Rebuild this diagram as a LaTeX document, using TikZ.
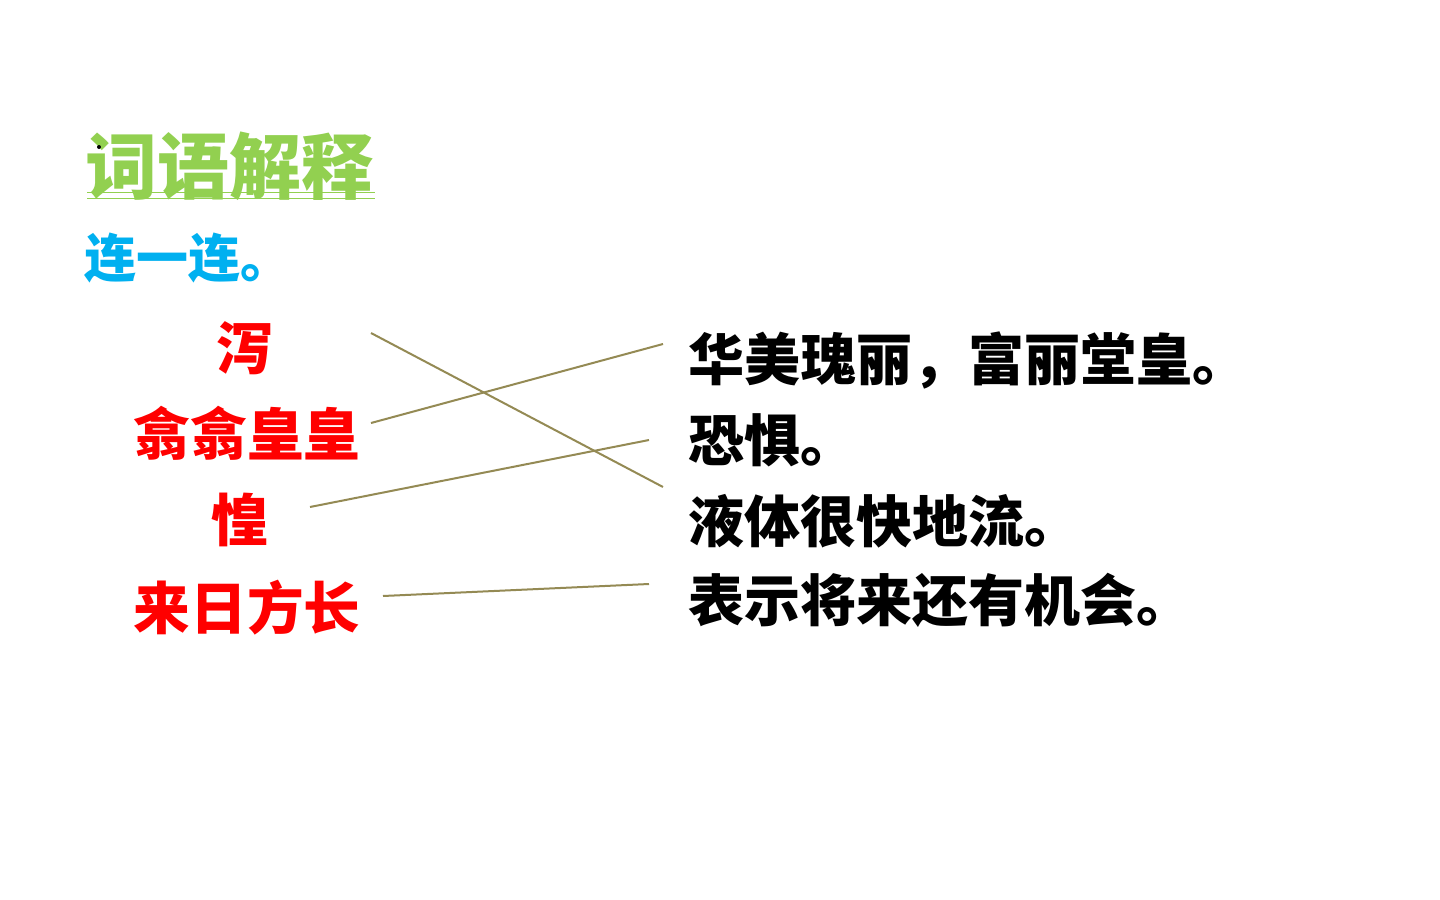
\documentclass[tikz,border=0pt]{standalone}
\usepackage{fontspec}
\newfontfamily\cjk{Noto Sans CJK SC}
\definecolor{titlegreen}{RGB}{146,208,80}
\definecolor{subblue}{RGB}{0,176,240}
\definecolor{wordred}{RGB}{255,0,0}
\definecolor{linkline}{RGB}{148,138,84}
\begin{document}
\begin{tikzpicture}[x=0.75pt,y=-0.75pt,
  word/.style={font=\cjk\bfseries\fontsize{42.5}{46}\selectfont, text=wordred, inner sep=0pt, anchor=center},
  meaning/.style={font=\cjk\bfseries\fontsize{42}{46}\selectfont, text=black, inner sep=0pt, anchor=west},
  link/.style={draw=linkline, line width=1.5pt}]
\useasboundingbox (0,0) rectangle (1440,900);
\fill[white] (0,0) rectangle (1440,900);
% title
\node[font=\cjk\bfseries\fontsize{54}{58}\selectfont, text=titlegreen, inner sep=0pt, anchor=west] (title) at (85,166) {词语解释};
\draw[titlegreen, line width=1.4pt] (87,192.5) -- (375,192.5);
\draw[titlegreen, line width=1.4pt] (87,198.5) -- (375,198.5);
\fill[black] (99,147) circle (2);
\node[font=\cjk\bfseries\fontsize{39}{42}\selectfont, text=subblue, inner sep=0pt, anchor=west] (sub) at (84,258) {连一连。};
% left words
\node[word] (w1) at (245,348) {泻};
\node[word] (w2) at (247,433) {翕翕皇皇};
\node[word] (w3) at (240,520) {惶};
\node[word] (w4) at (247,608) {来日方长};
% right meanings
\node[meaning] (m1) at (688,360) {华美瑰丽，富丽堂皇。};
\node[meaning] (m2) at (688,440) {恐惧。};
\node[meaning] (m3) at (688,521) {液体很快地流。};
\node[meaning] (m4) at (688,600) {表示将来还有机会。};
% link endpoints
\coordinate (a1) at (371,333); \coordinate (b1) at (663,487);
\coordinate (a2) at (371,423); \coordinate (b2) at (663,344);
\coordinate (a3) at (310,507); \coordinate (b3) at (649,440);
\coordinate (a4) at (383,596); \coordinate (b4) at (649,584);
\draw[link] (a1) -- (b1);
\draw[link] (a2) -- (b2);
\draw[link] (a3) -- (b3);
\draw[link] (a4) -- (b4);
\end{tikzpicture}
\end{document}
